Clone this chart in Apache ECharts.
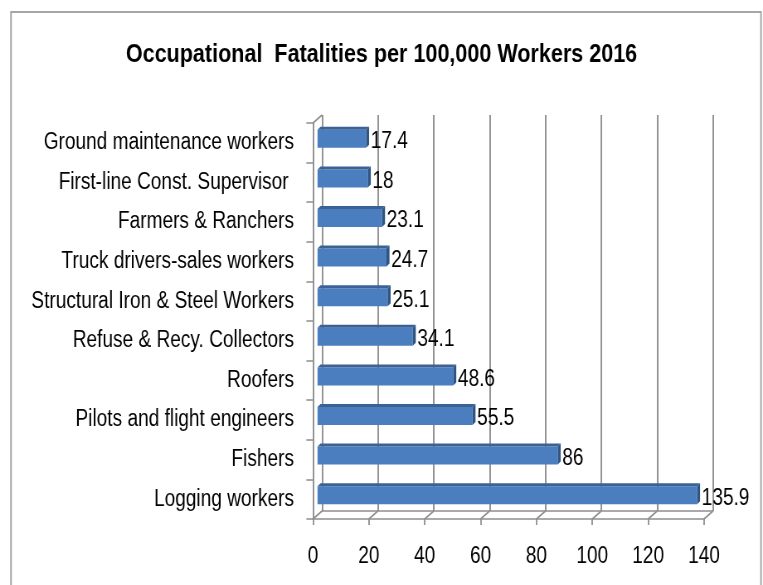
<!DOCTYPE html>
<html>
<head>
<meta charset="UTF-8">
<title>Occupational Fatalities</title>
<script src="https://cdn.jsdelivr.net/npm/echarts@6/dist/echarts.min.js"></script>
<style>
  html, body { margin: 0; padding: 0; background: #fff; overflow: hidden; }
  /* the original is a horizontally squeezed picture: draw wide, then squeeze */
  #chart { width: 920px; height: 585px; transform: scaleX(0.82935); transform-origin: 0 0; }
</style>
</head>
<body>
<div id="chart"></div>
<script type="text/javascript">
// data
var categories = ['Ground maintenance workers', 'First-line Const. Supervisor ', 'Farmers & Ranchers',
    'Truck drivers-sales workers', 'Structural Iron & Steel Workers', 'Refuse & Recy. Collectors',
    'Roofers', 'Pilots and flight engineers', 'Fishers', 'Logging workers'];
var values = [17.4, 18, 23.1, 24.7, 25.1, 34.1, 48.6, 55.5, 86, 135.9];
var xTicks = [0, 20, 40, 60, 80, 100, 120, 140];

var sx = 763 / 920;           // horizontal squeeze
var font = "'Liberation Sans', Arial, sans-serif";
var gray = '#8E8E8E';
var depthX = 9 / sx, depthY = 8;   // 3d wall offset

var chart = echarts.init(document.getElementById('chart'));

// bar with a top face and an end cap
function renderBar(params, api) {
    var v = api.value(0);
    var c = api.value(1);
    var s = api.coord([0, c]);
    var e = api.coord([v, c]);
    var h = 18, dx = 3 / sx, dy = 3;
    var x0 = s[0], x1 = e[0];
    var y0 = e[1] - h / 2, y1 = e[1] + h / 2;
    return {
        type: 'group',
        children: [
            { type: 'rect', shape: { x: x0, y: y0, width: x1 - x0, height: h },
              style: { fill: '#4A7EBF' } },
            { type: 'polygon', shape: { points: [[x0, y0], [x0 + dx, y0 - dy], [x1 + dx, y0 - dy], [x1, y0]] },
              style: { fill: '#3A6297' } },
            { type: 'polygon', shape: { points: [[x1, y0], [x1 + dx, y0 - dy], [x1 + dx, y1 - dy], [x1, y1]] },
              style: { fill: '#2E5585' } },
            { type: 'text', x: x1 + dx + 2, y: e[1] + 3,
              style: { text: String(v), font: '23px ' + font, fill: '#000', verticalAlign: 'middle' } }
        ]
    };
}

// floor / wall diagonals at every tick
function renderEdges(params, api) {
    var cs = params.coordSys;
    var x = api.coord([api.value(0), 0])[0];
    var yb = cs.y + cs.height;
    var kids = [{ type: 'line', shape: { x1: x, y1: yb, x2: x + depthX, y2: yb - depthY },
        style: { stroke: gray, lineWidth: 1.6 } }];
    if (api.value(0) === xTicks[0]) {
        kids.push({ type: 'line', shape: { x1: cs.x, y1: cs.y, x2: cs.x + depthX, y2: cs.y - depthY },
            style: { stroke: gray, lineWidth: 1.6 } });
    }
    return { type: 'group', children: kids };
}

var gl = 313 / sx, gr = 920 - 704 / sx;

var option = {
    animation: false,
    title: {
        text: 'Occupational  Fatalities per 100,000 Workers 2016',
        left: 'center',
        top: 37,
        textStyle: { fontFamily: font, fontSize: 26, fontWeight: 'bold', color: '#000' }
    },
    graphic: [{
        type: 'rect',
        shape: { x: 11 / sx, y: 12, width: 750 / sx, height: 600 },
        style: { fill: 'none', stroke: '#A6A6A6', lineWidth: 2 }
    }],
    grid: [
        // front: axes and labels
        { left: gl, right: gr, top: 123, bottom: 66, outerBoundsMode: 'none' },
        // back wall
        { left: gl + depthX, right: gr - depthX, top: 123 - depthY, bottom: 66 + depthY, outerBoundsMode: 'none' },
        // middle: bars
        { left: gl + depthX / 2, right: gr - depthX / 2, top: 119, bottom: 70, outerBoundsMode: 'none' }
    ],
    xAxis: [
        { gridIndex: 0, type: 'value', min: 0, max: 140, interval: 20,
          axisLine: { show: true, lineStyle: { color: gray, width: 1.5 } },
          axisTick: { show: true, length: 6, lineStyle: { color: gray, width: 1.8 } },
          axisLabel: { margin: 26, fontFamily: font, fontSize: 23, color: '#000' },
          splitLine: { show: false } },
        { gridIndex: 1, type: 'value', min: 0, max: 140, interval: 20,
          axisLine: { show: true, lineStyle: { color: gray, width: 1.5 } },
          axisTick: { show: false }, axisLabel: { show: false },
          splitLine: { show: true, lineStyle: { color: gray, width: 1.9 } } },
        { gridIndex: 2, type: 'value', min: 0, max: 140, interval: 20, show: false }
    ],
    yAxis: [
        { gridIndex: 0, type: 'category', data: categories, inverse: true,
          axisLine: { show: true, lineStyle: { color: gray, width: 1.9 } },
          axisTick: { show: true, length: 8, lineStyle: { color: gray, width: 1.5 } },
          axisLabel: { margin: 23, fontFamily: font, fontSize: 23, color: '#000' } },
        { gridIndex: 1, type: 'category', data: categories, inverse: true, show: false },
        { gridIndex: 2, type: 'category', data: categories, inverse: true, show: false }
    ],
    series: [
        { type: 'custom', xAxisIndex: 0, yAxisIndex: 0, renderItem: renderEdges,
          data: xTicks.map(function (t) { return [t, 0]; }), encode: { x: 0, y: 1 }, silent: true },
        { type: 'custom', xAxisIndex: 2, yAxisIndex: 2, renderItem: renderBar,
          data: values.map(function (v, i) { return [v, i]; }), encode: { x: 0, y: 1 } }
    ]
};

chart.setOption(option);
</script>
</body>
</html>
